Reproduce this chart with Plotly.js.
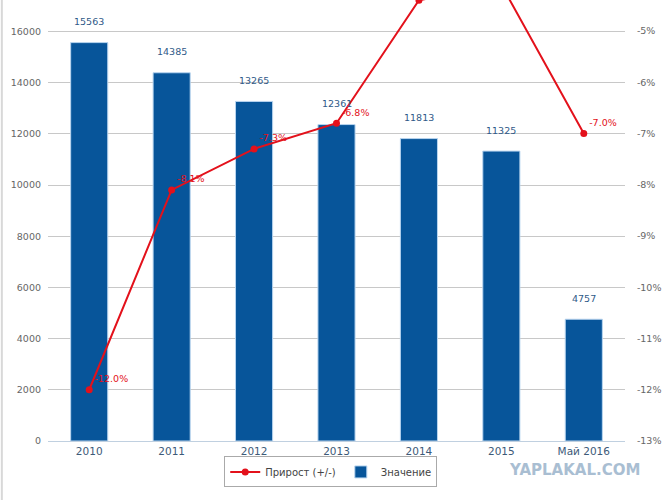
<!DOCTYPE html>
<html>
<head>
<meta charset="utf-8">
<script src="https://cdn.plot.ly/plotly-3.0.1.min.js"></script>
<style>
  html, body { margin: 0; padding: 0; background: #fff; }
  #chart { width: 666px; height: 500px; }
</style>
</head>
<body>
<div id="chart"></div>
<script>
// chart data
const categories = ["2010", "2011", "2012", "2013", "2014", "2015", "Май 2016"];
const values = [15563, 14385, 13265, 12361, 11813, 11325, 4757];
const growth = [-12.0, -8.1, -7.3, -6.8, -4.4, -4.1, -7.0];
const growthLabels = ["-12.0%", "-8.1%", "-7.3%", "-6.8%", "-4.4%", "-4.1%", "-7.0%"];
const rightTicks = [-13, -12, -11, -10, -9, -8, -7, -6, -5];
const rightTickText = ["-13%", "-12%", "-11%", "-10%", "-9%", "-8%", "-7%", "-6%", "-5%"];

const font = "DejaVu Sans, Verdana, sans-serif";

let growthTrace = {
    x: categories,
    y: growth,
    name: "Прирост (+/-)",
    type: "scatter",
    mode: "lines+markers+text",
    yaxis: "y2",
    line: { color: "#e3111b", width: 2 },
    marker: { color: "#e3111b", size: 7 },
    text: growthLabels,
    textposition: "top right",
    textfont: { family: font, size: 9.5, color: "#e3111b" },
    hoverinfo: "none"
};

let valueTrace = {
    x: categories,
    y: values,
    name: "Значение",
    type: "bar",
    width: 0.45,
    marker: { color: "#07559a", line: { color: "#b9d5ef", width: 1 } },
    hoverinfo: "none"
};

// value labels above the bars (x by category index, so the axis is not stretched)
let barLabels = categories.map((c, i) => ({
    x: i,
    y: values[i],
    text: String(values[i]),
    showarrow: false,
    yshift: 21,
    font: { family: font, size: 9.5, color: "#2f5a88" }
}));

let layout = {
    width: 666,
    height: 500,
    margin: { l: 48, r: 41, t: 0, b: 59 },
    paper_bgcolor: "#fff",
    plot_bgcolor: "#fff",
    font: { family: font, size: 10, color: "#666" },
    xaxis: {
        type: "category",
        range: [-0.5, 6.5],
        showline: true,
        linecolor: "#c0d0e0",
        linewidth: 1,
        ticks: "",
        tickfont: { family: font, size: 10.5, color: "#3d5a78" }
    },
    yaxis: {
        range: [0, 17227],
        tickvals: [0, 2000, 4000, 6000, 8000, 10000, 12000, 14000, 16000],
        ticktext: ["0", "2000", "4000", "6000", "8000", "10000", "12000", "14000", "16000"],
        showgrid: true,
        gridcolor: "#c8c8c8",
        zeroline: false,
        ticks: "",
        ticklabelstandoff: 6,
        tickfont: { family: font, size: 9.5, color: "#666" }
    },
    yaxis2: {
        overlaying: "y",
        side: "right",
        range: [-13, -4.395],
        tickvals: rightTicks,
        ticktext: rightTickText,
        showgrid: false,
        zeroline: false,
        ticks: "outside",
        ticklen: 9,
        tickcolor: "#ffffff",
        tickfont: { family: font, size: 9.5, color: "#666" }
    },
    showlegend: true,
    legend: {
        orientation: "h",
        x: 0.49,
        xanchor: "center",
        y: -0.035,
        yanchor: "top",
        bordercolor: "#aaa",
        borderwidth: 1,
        bgcolor: "#fff",
        itemwidth: 30,
        font: { family: font, size: 10, color: "#444" }
    },
    annotations: barLabels.concat([{
        xref: "paper",
        yref: "paper",
        x: 1.03,
        y: -0.065,
        xanchor: "right",
        yanchor: "middle",
        text: "<b>YAPLAKAL.COM</b>",
        showarrow: false,
        font: { family: "DejaVu Sans, sans-serif", size: 15, color: "#a9bed2" }
    }]),
    shapes: [{
        type: "line",
        xref: "paper",
        yref: "paper",
        x0: -0.08, x1: -0.08,
        y0: -0.134, y1: 1,
        line: { color: "#d8d8d8", width: 2 }
    }]
};

Plotly.newPlot("chart", [growthTrace, valueTrace], layout, { displayModeBar: false, staticPlot: true });
</script>
</body>
</html>
